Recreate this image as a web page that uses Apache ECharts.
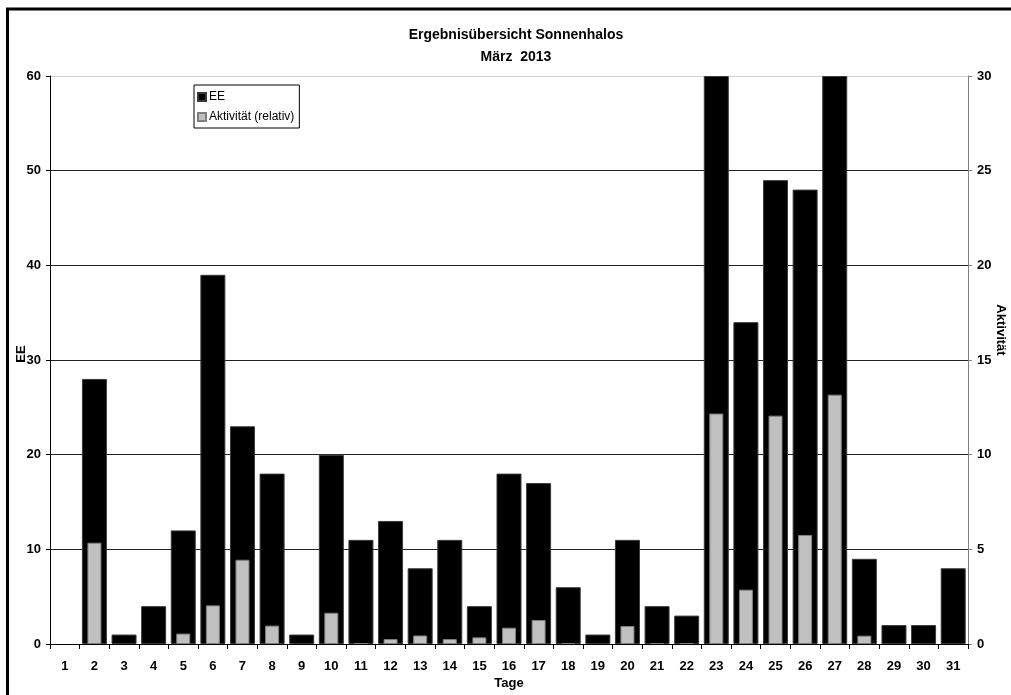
<!DOCTYPE html>
<html>
<head>
<meta charset="utf-8">
<script src="https://cdn.jsdelivr.net/npm/echarts@6/dist/echarts.min.js"></script>
<style>
html,body{margin:0;padding:0;background:#fff;}
#chart{width:1011px;height:695px;}
</style>
</head>
<body>
<div id="chart"></div>
<script>
const days = ['1','2','3','4','5','6','7','8','9','10','11','12','13','14','15','16','17','18','19','20','21','22','23','24','25','26','27','28','29','30','31'];
const eeValues = [0,28,1,4,12,39,23,18,1,20,11,13,8,11,4,18,17,6,1,11,4,3,60,34,49,48,60,9,2,2,8];
const aktivitaet = [0,5.35,0,0,0.55,2.04,4.45,0.97,0,1.65,0.05,0.26,0.45,0.26,0.35,0.86,1.27,0.05,0,0.95,0.05,0.05,12.17,2.87,12.06,5.76,13.17,0.44,0,0,0];
const leftTicks = [0,10,20,30,40,50,60];
const rightTicks = [0,5,10,15,20,25,30];

// zero values draw no bar at all
const noZero = arr => arr.map(v => (v === 0 ? null : v));

const FONT = "'Liberation Sans Narrow','Arial Narrow','Liberation Sans',Arial,sans-serif";
const chart = echarts.init(document.getElementById('chart'), null, {renderer:'canvas'});
const option = {
  animation:false,
  backgroundColor:'#fff',
  textStyle:{fontFamily:FONT},
  grid:{left:50,right:43,top:76,bottom:51,containLabel:false},
  legend:{
    orient:'vertical', left:194, top:85,
    data:['EE','Aktivität (relativ)'],
    borderColor:'#000', borderWidth:1, padding:[6,5,5,3],
    itemWidth:8, itemHeight:8, itemGap:8,
    textStyle:{fontSize:12, fontFamily:FONT, color:'#000', padding:[0,0,0,-2]},
    icon:'rect'
  },
  xAxis:[{
    type:'category', data:days, boundaryGap:true,
    axisLine:{lineStyle:{color:'#000',width:1}},
    axisTick:{show:true, length:5, alignWithLabel:false, lineStyle:{color:'#000'}},
    axisLabel:{interval:0, margin:16, fontSize:13, fontWeight:'bold', color:'#000', fontFamily:FONT},
    splitLine:{show:false}
  },{
    type:'category', data:days, boundaryGap:true, show:false
  }],
  yAxis:[{
    type:'value', min:leftTicks[0], max:leftTicks[leftTicks.length-1], interval:10, position:'left',
    axisLine:{show:true, lineStyle:{color:'#000',width:1}},
    axisTick:{show:true, length:4, lineStyle:{color:'#000'}},
    axisLabel:{margin:9, fontSize:13, fontWeight:'bold', color:'#000', fontFamily:FONT},
    splitLine:{show:true, lineStyle:{color:['#000','#222','#222','#222','#222','#222','#cfcfcf'], width:1}}
  },{
    type:'value', min:rightTicks[0], max:rightTicks[rightTicks.length-1], interval:5, position:'right',
    axisLine:{show:true, lineStyle:{color:'#808080',width:1}},
    axisTick:{show:true, length:4, lineStyle:{color:'#808080'}},
    axisLabel:{margin:9, fontSize:13, fontWeight:'bold', color:'#000', fontFamily:FONT},
    splitLine:{show:false}
  }],
  series:[{
    name:'EE', type:'bar', xAxisIndex:0, yAxisIndex:0, data:noZero(eeValues),
    barWidth:25, clip:true,
    itemStyle:{color:'#000', borderColor:'#3a3a3a', borderWidth:1},
    z:2
  },{
    name:'Aktivität (relativ)', type:'bar', xAxisIndex:1, yAxisIndex:1, data:noZero(aktivitaet),
    barWidth:14, clip:true,
    itemStyle:{color:'#c0c0c0', borderColor:'#808080', borderWidth:1},
    z:3
  }],
  graphic:[
    {type:'rect', shape:{x:7.5,y:9,width:1200,height:1000}, style:{fill:'none',stroke:'#000',lineWidth:3}, z:100, silent:true},
    {type:'text', x:516, y:35, style:{text:'Ergebnisübersicht Sonnenhalos', font:"bold 14px "+FONT, fill:'#000', textAlign:'center', textVerticalAlign:'middle'}},
    {type:'text', x:516, y:57, style:{text:'März  2013', font:"bold 14px "+FONT, fill:'#000', textAlign:'center', textVerticalAlign:'middle'}},
    {type:'text', x:509, y:683, style:{text:'Tage', font:"bold 13px "+FONT, fill:'#000', textAlign:'center', textVerticalAlign:'middle'}},
    {type:'text', x:21, y:354, rotation:Math.PI/2, style:{text:'EE', font:"bold 13px "+FONT, fill:'#000', textAlign:'center', textVerticalAlign:'middle'}},
    {type:'text', x:1001, y:330, rotation:-Math.PI/2, style:{text:'Aktivität', font:"bold 13px "+FONT, fill:'#000', textAlign:'center', textVerticalAlign:'middle'}}
  ]
};
chart.setOption(option);
</script>
</body>
</html>
